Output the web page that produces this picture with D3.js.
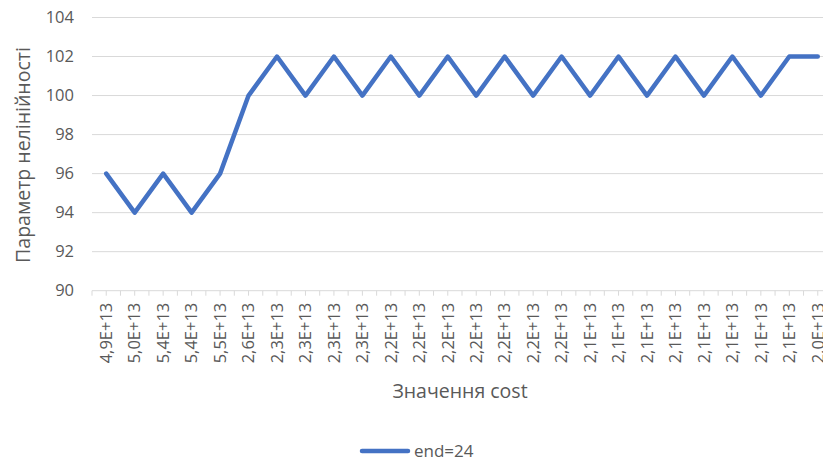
<!DOCTYPE html>
<html>
<head>
<meta charset="utf-8">
<script src="https://cdn.jsdelivr.net/npm/d3@7"></script>
<style>
  html, body { margin: 0; padding: 0; background: #fff; }
  svg { display: block; font-family: "Open Sans", "Liberation Sans", sans-serif; }
</style>
</head>
<body>
<svg id="chart" width="823" height="459"></svg>
<script>
// Category labels (cost values) along the x axis
const costLabels = [
  "4,9E+13", "5,0E+13", "5,4E+13", "5,4E+13", "5,5E+13", "2,6E+13",
  "2,3E+13", "2,3E+13", "2,3E+13", "2,3E+13", "2,2E+13", "2,2E+13",
  "2,2E+13", "2,2E+13", "2,2E+13", "2,2E+13", "2,2E+13", "2,1E+13",
  "2,1E+13", "2,1E+13", "2,1E+13", "2,1E+13", "2,1E+13", "2,1E+13",
  "2,1E+13", "2,0E+13"
];
// Nonlinearity parameter for series end=24
const seriesEnd24 = [
  96, 94, 96, 94, 96, 100, 102, 100, 102, 100, 102, 100, 102,
  100, 102, 100, 102, 100, 102, 100, 102, 100, 102, 100, 102, 102
];
const yTicks = [90, 92, 94, 96, 98, 100, 102, 104];
const seriesName = "end=24";
const xTitle = "Значення cost";
const yTitle = "Параметр нелінійності";

const svg = d3.select("#chart");
const plot = { left: 92, right: 832, top: 17.5, bottom: 290.7 };

const keys = costLabels.map((d, i) => i);
const x = d3.scaleBand().domain(keys).range([plot.left, plot.right]).padding(0);
const y = d3.scaleLinear().domain([90, 104]).range([plot.bottom, plot.top]);

// Horizontal gridlines
svg.append("g")
  .selectAll("line")
  .data(yTicks.filter(v => v !== 90))
  .join("line")
  .attr("x1", plot.left).attr("x2", plot.right)
  .attr("y1", d => y(d)).attr("y2", d => y(d))
  .attr("stroke", "#d9d9d9").attr("stroke-width", 1);

// Y axis labels
const yAxis = d3.axisLeft(y).tickValues(yTicks).tickSize(0).tickPadding(0);
const gy = svg.append("g").attr("transform", `translate(74,0)`).call(yAxis);
gy.select(".domain").remove();
gy.selectAll("text")
  .attr("fill", "#595959")
  .attr("font-size", "16.5px")
  .attr("font-family", "'Open Sans', sans-serif");

// X axis line with ticks at category centres and boundaries
const step = x.step();
const gx = svg.append("g").attr("transform", `translate(0,${plot.bottom})`);
gx.append("line")
  .attr("x1", plot.left).attr("x2", plot.right)
  .attr("stroke", "#d9d9d9").attr("stroke-width", 1);
const tickPos = [];
keys.forEach(k => { tickPos.push(x(k)); tickPos.push(x(k) + step / 2); });
tickPos.push(plot.right);
gx.selectAll("line.tick")
  .data(tickPos)
  .join("line")
  .attr("class", "tick")
  .attr("x1", d => d).attr("x2", d => d)
  .attr("y1", 0).attr("y2", 5)
  .attr("stroke", "#d9d9d9").attr("stroke-width", 1);

// Rotated category labels
const xAxis = d3.axisBottom(x).tickSize(0).tickFormat(i => costLabels[i]);
const gxl = svg.append("g").attr("transform", `translate(0,${plot.bottom})`).call(xAxis);
gxl.select(".domain").remove();
gxl.selectAll("text")
  .attr("transform", "rotate(-90)")
  .attr("x", -12).attr("y", 0).attr("dy", "0.35em")
  .attr("text-anchor", "end")
  .attr("fill", "#595959")
  .attr("font-size", "16.5px")
  .attr("font-family", "'Open Sans', sans-serif");

// Series line
const line = d3.line()
  .x((d, i) => x(i) + step / 2)
  .y(d => y(d));
svg.append("path")
  .datum(seriesEnd24)
  .attr("d", line)
  .attr("fill", "none")
  .attr("stroke", "#4472C4")
  .attr("stroke-width", 4.5)
  .attr("stroke-linejoin", "round")
  .attr("stroke-linecap", "round");

// Axis titles
svg.append("text")
  .attr("x", 460).attr("y", 398)
  .attr("text-anchor", "middle")
  .attr("fill", "#595959")
  .attr("font-size", "19.5px")
  .text(xTitle);
svg.append("text")
  .attr("transform", "translate(30,155) rotate(-90)")
  .attr("text-anchor", "middle")
  .attr("fill", "#595959")
  .attr("font-size", "19.5px")
  .text(yTitle);

// Legend
const lg = svg.append("g").attr("transform", "translate(362,451)");
lg.append("line")
  .attr("x1", 0).attr("x2", 46)
  .attr("stroke", "#4472C4").attr("stroke-width", 4.5)
  .attr("stroke-linecap", "round");
lg.append("text")
  .attr("x", 52).attr("dy", "0.35em")
  .attr("fill", "#595959")
  .attr("font-size", "17px")
  .text(seriesName);
</script>
</body>
</html>
